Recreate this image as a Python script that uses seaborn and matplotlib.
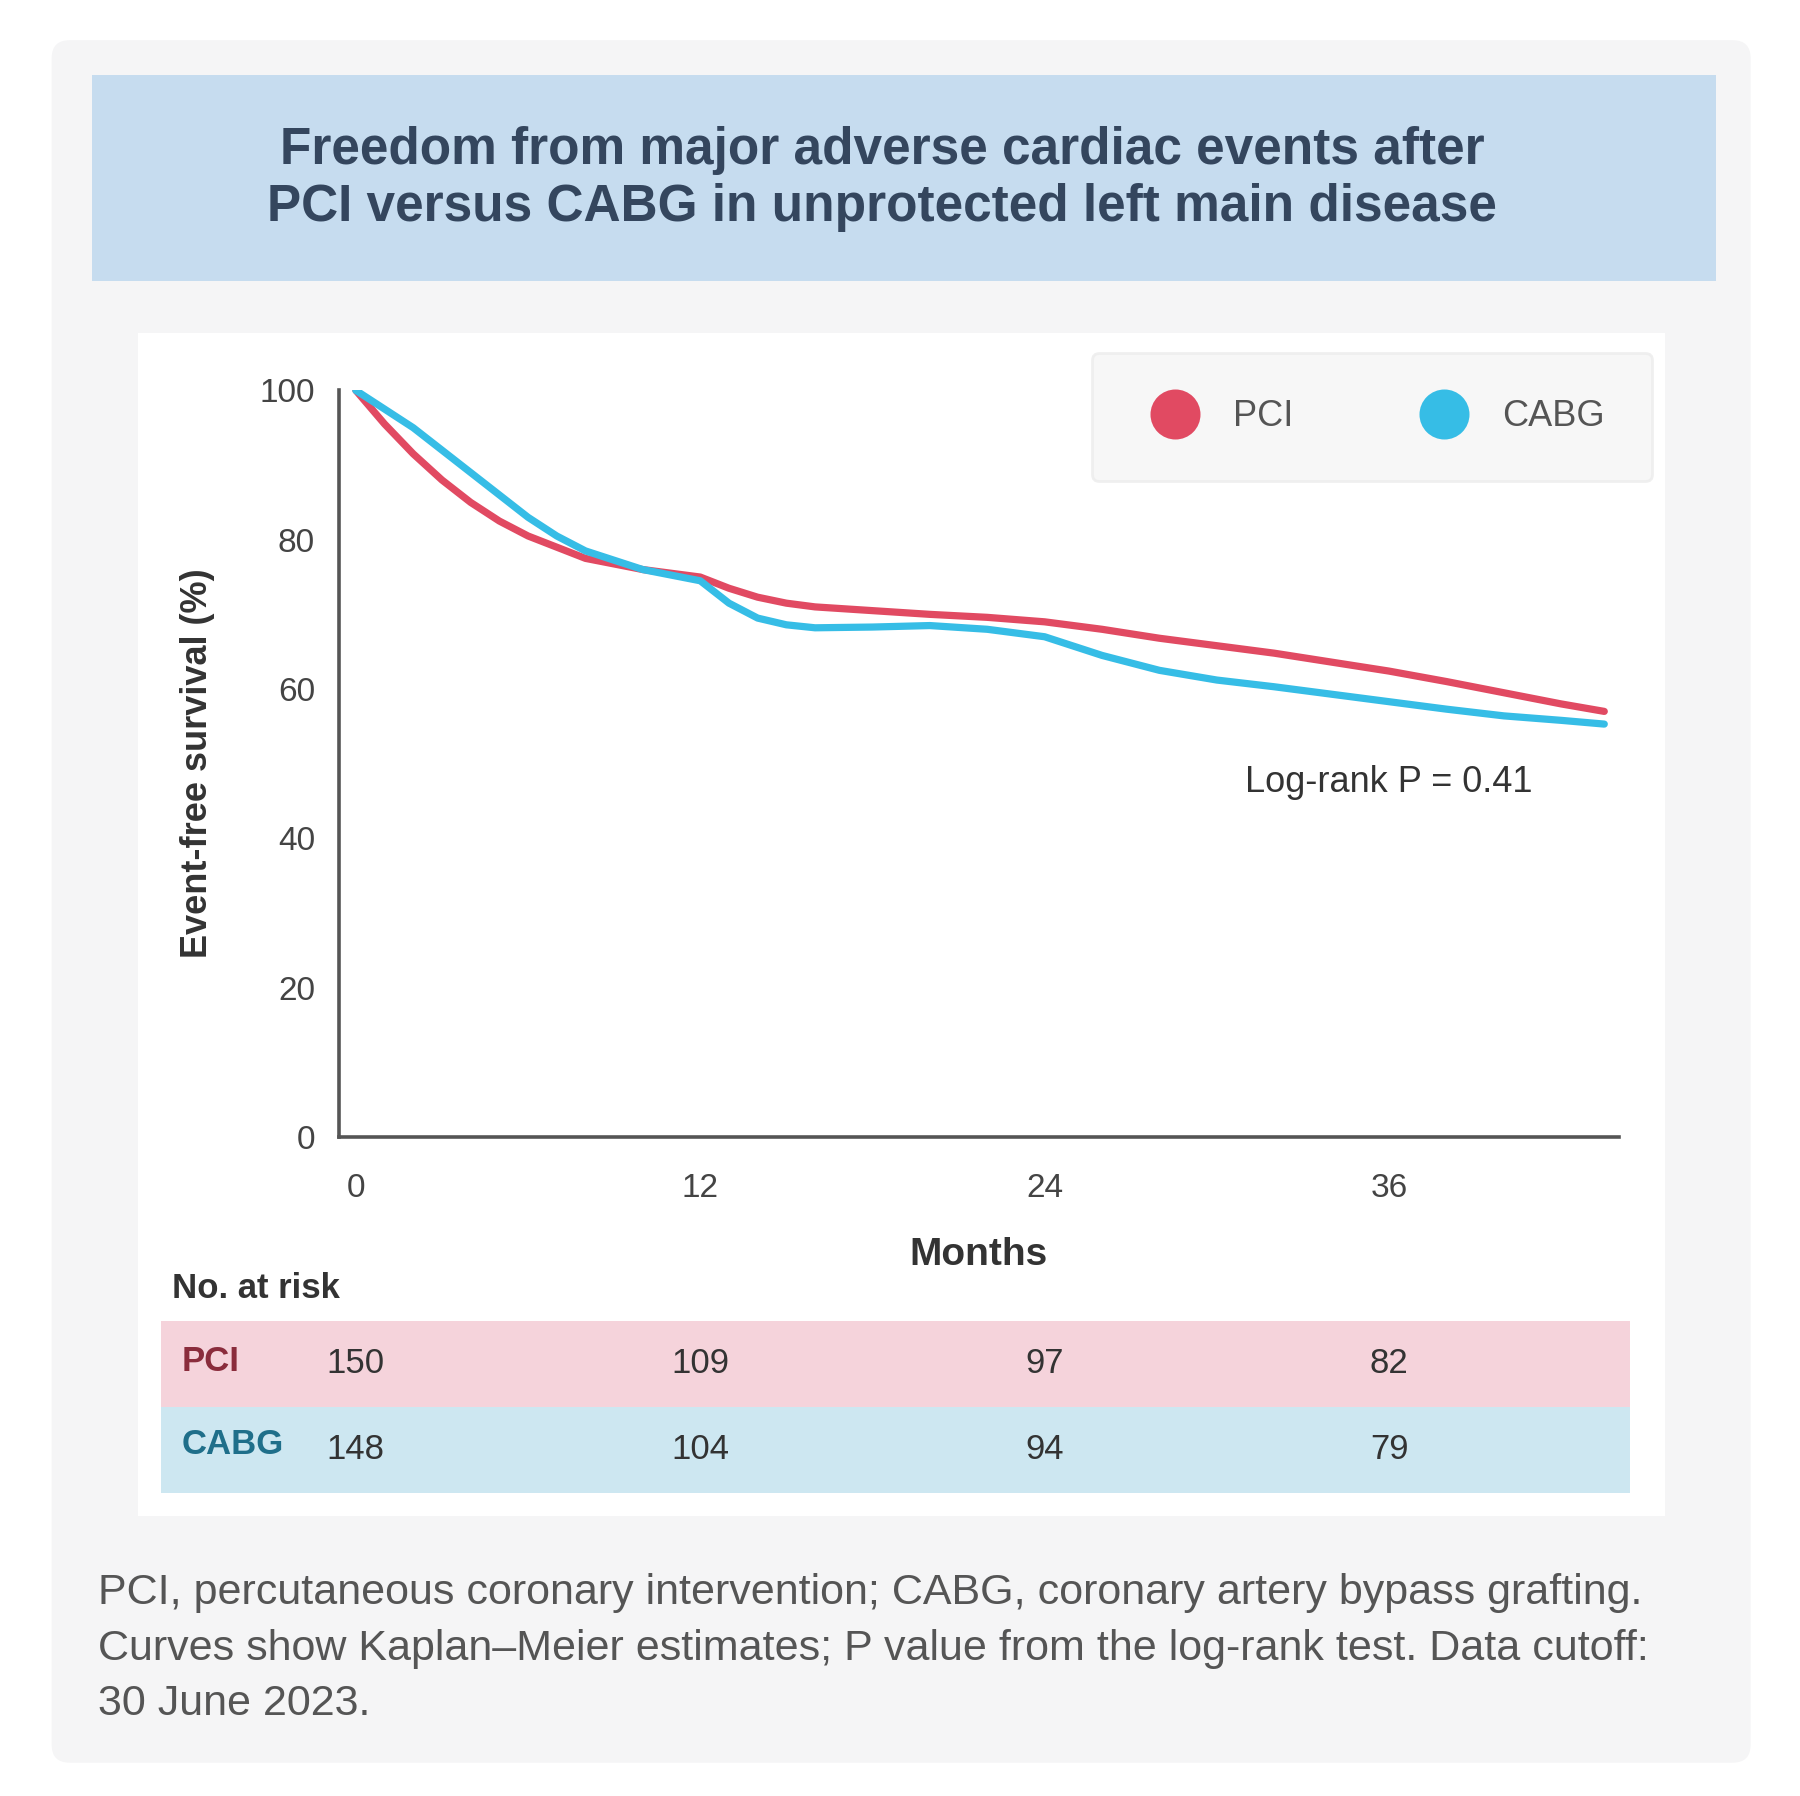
import numpy as np
import pandas as pd
import seaborn as sns
import matplotlib.pyplot as plt
from matplotlib.patches import Rectangle, FancyBboxPatch
from matplotlib.lines import Line2D

# survival data (months, % event-free)
months_pci = [0, 1, 2, 3, 4, 5, 6, 7, 8, 10, 12, 13, 14, 15, 16, 18, 20, 22, 24,
              26, 28, 30, 32, 34, 36, 38, 40, 42, 43.5]
surv_pci = [100, 95.5, 91.5, 88, 85, 82.5, 80.5, 79, 77.5, 76, 75, 73.5, 72.3, 71.5,
            71, 70.5, 70, 69.6, 69, 68, 66.8, 65.8, 64.8, 63.6, 62.4, 61, 59.5, 58, 57]
months_cabg = [0, 1, 2, 3, 4, 5, 6, 7, 8, 10, 12, 13, 14, 15, 16, 18, 20, 22, 24,
               26, 28, 30, 32, 34, 36, 38, 40, 42, 43.5]
surv_cabg = [100, 97.5, 95, 92, 89, 86, 83, 80.5, 78.5, 76, 74.5, 71.5, 69.5, 68.6,
             68.2, 68.3, 68.5, 68, 67, 64.5, 62.5, 61.2, 60.3, 59.3, 58.3, 57.3, 56.4,
             55.8, 55.3]

groups = ["PCI", "CABG"]
colors = {"PCI": "#e14a62", "CABG": "#36bde6"}
risk_times = [0, 12, 24, 36]
risk_pci = [150, 109, 97, 82]
risk_cabg = [148, 104, 94, 79]
yticks = [0, 20, 40, 60, 80, 100]

df = pd.concat([
    pd.DataFrame({"month": months_pci, "surv": surv_pci, "group": "PCI"}),
    pd.DataFrame({"month": months_cabg, "surv": surv_cabg, "group": "CABG"}),
])

sns.set_style("white")
plt.rcParams["font.family"] = ["Liberation Sans", "DejaVu Sans"]

fig = plt.figure(figsize=(9, 8.98), dpi=200, facecolor="white")
W, H = 1568.0, 1564.0


def fx(x):
    return x / W


def fy(y):
    return 1 - y / H


# card background, title box and white plot panel
fig.patches.append(FancyBboxPatch((fx(45), fy(1535)), fx(1525) - fx(45), fy(35) - fy(1535),
                                  boxstyle="round,pad=0,rounding_size=0.01",
                                  transform=fig.transFigure, facecolor="#f5f5f6",
                                  edgecolor="none", zorder=-3))
fig.patches.append(Rectangle((fx(80), fy(245)), fx(1495) - fx(80), fy(65) - fy(245),
                             transform=fig.transFigure, facecolor="#c6dcef",
                             edgecolor="none", zorder=-2))
fig.patches.append(Rectangle((fx(120), fy(1320)), fx(1450) - fx(120), fy(290) - fy(1320),
                             transform=fig.transFigure, facecolor="white",
                             edgecolor="none", zorder=-2))

fig.text(0.49, fy(156),
         "Freedom from major adverse cardiac events after\n"
         "PCI versus CABG in unprotected left main disease",
         ha="center", va="center", fontsize=18.5, fontweight="bold",
         color="#34465e", linespacing=1.2)

# main Kaplan-Meier axes
ax = fig.add_axes([fx(295), fy(990), fx(1410) - fx(295), fy(340) - fy(990)])
ax.set_facecolor("none")
sns.lineplot(data=df, x="month", y="surv", hue="group", palette=colors,
             hue_order=groups, linewidth=2.6, ax=ax, legend=False)
ax.set_xlim(-0.6, 44.0)
ax.set_ylim(0, 100)
ax.set_xticks(risk_times)
ax.set_yticks(yticks)
ax.tick_params(axis="both", labelsize=12, colors="#444444", length=5, width=1.2)
ax.tick_params(axis="x", pad=8)
for s in ["top", "right"]:
    ax.spines[s].set_visible(False)
for s in ["left", "bottom"]:
    ax.spines[s].set_color("#555555")
    ax.spines[s].set_linewidth(1.3)
ax.set_xlabel("Months", fontsize=14, fontweight="bold", color="#333333", labelpad=12)
ax.set_ylabel("Event-free survival (%)", fontsize=13, fontweight="bold",
              color="#333333", labelpad=16)

ax.text(36, 47.5, "Log-rank P = 0.41", ha="center", va="center",
        fontsize=13, color="#333333")

handles = [Line2D([], [], marker="o", linestyle="", markersize=17,
                  markerfacecolor=colors[g], markeredgecolor=colors[g]) for g in groups]
leg = ax.legend(handles, groups, loc="upper right", bbox_to_anchor=(1.04, 1.075),
                ncol=2, fontsize=13, frameon=True, borderpad=1.3, handletextpad=0.6,
                columnspacing=3.2)
leg.get_frame().set_facecolor("#f6f6f6")
leg.get_frame().set_edgecolor("#ececec")
for t in leg.get_texts():
    t.set_color("#555555")

# number-at-risk table
axt = fig.add_axes([fx(295), fy(1300), fx(1410) - fx(295), fy(1150) - fy(1300)])
axt.set_xlim(ax.get_xlim())
axt.set_ylim(0, 2)
axt.axis("off")
x0 = (140 - 295) / 1115.0
x1 = (1420 - 295) / 1115.0
axt.axhspan(1, 2, xmin=x0, xmax=x1, facecolor="#f5d3db", edgecolor="none", clip_on=False)
axt.axhspan(0, 1, xmin=x0, xmax=x1, facecolor="#cde7f1", edgecolor="none", clip_on=False)
for t, n in zip(risk_times, risk_pci):
    axt.text(t, 1.5, str(n), ha="center", va="center", fontsize=12.5, color="#333333")
for t, n in zip(risk_times, risk_cabg):
    axt.text(t, 0.5, str(n), ha="center", va="center", fontsize=12.5, color="#333333")
fig.text(fx(158), fy(1186), "PCI", ha="left", va="center", fontsize=12.5,
         fontweight="bold", color="#8a2c3c")
fig.text(fx(158), fy(1258), "CABG", ha="left", va="center", fontsize=12.5,
         fontweight="bold", color="#1f6f8a")
fig.text(fx(150), fy(1122), "No. at risk", ha="left", va="center", fontsize=12.5,
         fontweight="bold", color="#333333")

# footnote
fig.text(fx(85), fy(1370),
         "PCI, percutaneous coronary intervention; CABG, coronary artery bypass grafting.\n"
         "Curves show Kaplan\u2013Meier estimates; P value from the log-rank test. Data cutoff:\n"
         "30 June 2023.",
         ha="left", va="top", fontsize=15.5, color="#555555", linespacing=1.5)

fig.savefig("out.png", dpi=200, facecolor="white")
